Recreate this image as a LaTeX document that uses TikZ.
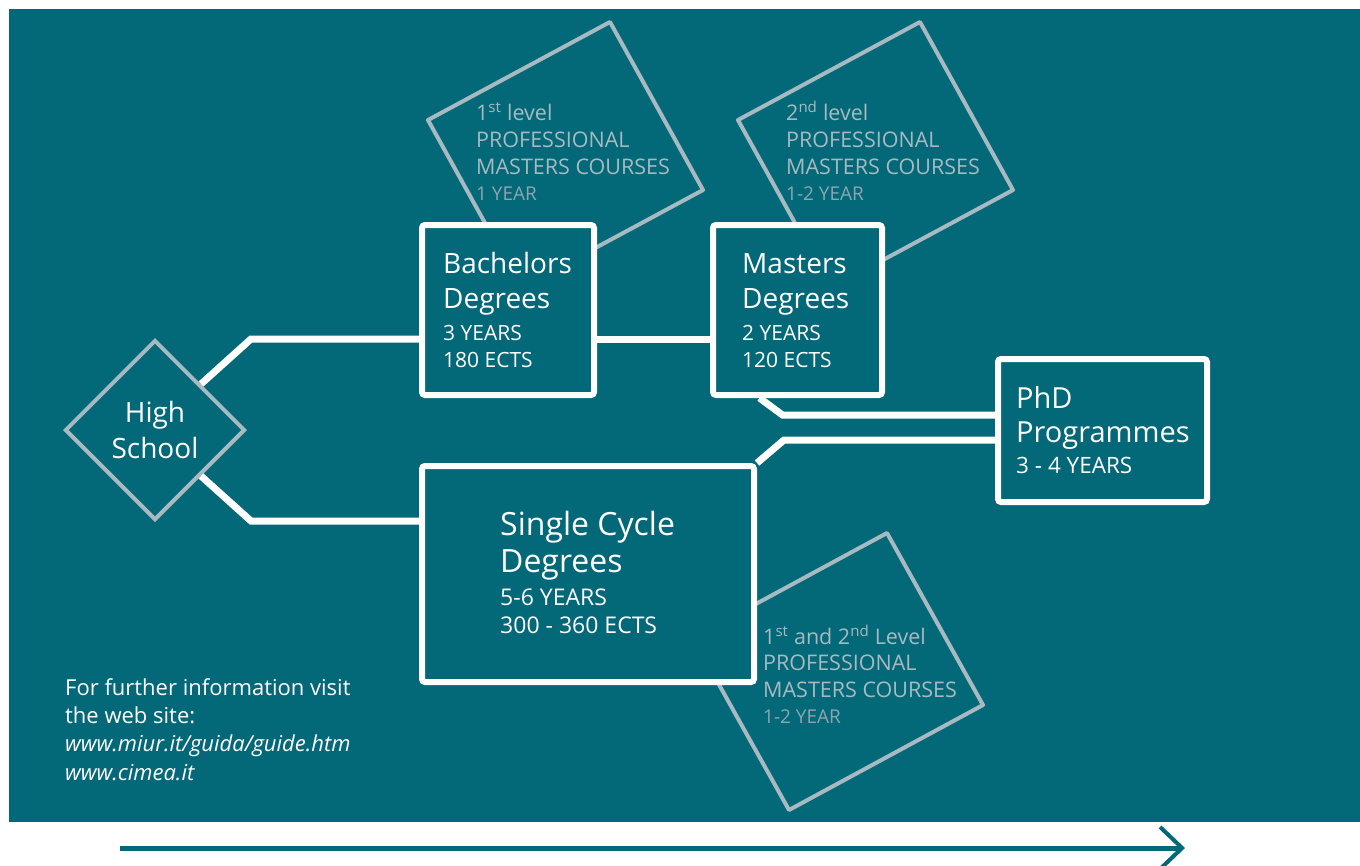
\documentclass[tikz,border=0pt]{standalone}
\usepackage{fontspec}
\setmainfont{Open Sans}
\usetikzlibrary{shapes.geometric}
\usetikzlibrary{arrows.meta}
\definecolor{petrol}{RGB}{3,104,119}
\definecolor{ash}{RGB}{168,186,193}
\definecolor{dimash}{RGB}{140,166,176}
\newcommand{\headfont}{\fontsize{28}{28}\selectfont}
\newcommand{\bigheadfont}{\fontsize{32}{32}\selectfont}
\newcommand{\yearfont}{\fontsize{19}{19}\selectfont}
\setlength{\lineskiplimit}{-50pt}

\begin{document}
\begin{tikzpicture}[x=1pt,y=-1pt,
  degbox/.style={draw=white,line width=6pt,fill=petrol,rounded corners=3pt,inner sep=0pt},
  link/.style={draw=white,line width=7pt},
  pmline/.style={draw=ash,line width=4pt,line join=round},
  wtxt/.style={text=white,align=left,inner sep=0pt,anchor=base west,
    font=\fontsize{21}{27}\selectfont},
  gtxt/.style={text=ash,align=left,inner sep=0pt,anchor=base west,
    font=\fontsize{21.5}{27}\selectfont}]
\useasboundingbox (0,0) rectangle (1360,865);
\fill[petrol] (9,9) rectangle (1360,822);

% professional masters courses
\draw[pmline] (610,22) -- (703,190) -- (521,288) -- (428,120) -- cycle;
\draw[pmline] (920,22) -- (1013,190) -- (831,288) -- (738,120) -- cycle;
\draw[pmline] (887,533) -- (983,705) -- (789,810) -- (693,638) -- cycle;
\node[gtxt] (pm1) at (476,200) {1\textsuperscript{st} level\\PROFESSIONAL\\MASTERS COURSES\\[-1pt]{\yearfont\color{dimash}1 YEAR}};
\node[gtxt] (pm2) at (786,200) {2\textsuperscript{nd} level\\PROFESSIONAL\\MASTERS COURSES\\[-1pt]{\yearfont\color{dimash}1-2 YEAR}};
\node[gtxt] (pm3) at (763,723) {1\textsuperscript{st} and 2\textsuperscript{nd} Level\\[-1pt]PROFESSIONAL\\MASTERS COURSES\\[-1pt]{\yearfont\color{dimash}1-2 YEAR}};

% degrees
\node[degbox,minimum width=172pt,minimum height=170pt] (bach) at (508,310) {};
\node[degbox,minimum width=169pt,minimum height=170pt] (mast) at (797.5,310) {};
\node[degbox,minimum width=209pt,minimum height=143pt] (phd) at (1102.5,430.5) {};
\node[degbox,minimum width=332pt,minimum height=216pt] (sing) at (588,574) {};
\node[diamond,draw=ash,line width=4pt,fill=petrol,minimum width=180pt,minimum height=180pt,
  inner sep=0pt,text=white,align=center,font=\fontsize{28}{36}\selectfont] (hs) at (155,430) {High\\School};

\draw[link] (hs.north east) -- ++(50,-45) coordinate (h1) -- (h1 -| bach.west);
\draw[link] (hs.south east) -- ++(50,45) coordinate (h2) -- (h2 -| sing.west);
\draw[link] (bach.east |- h1) -- (mast.west |- h1);
\draw[link] ([xshift=-38pt]mast.south) -- ++(23,17) coordinate (m1) -- (m1 -| phd.west);
\draw[link] (sing.north east) -- ++(27,-23) coordinate (s1) -- (s1 -| phd.west);

\node[wtxt] (bacht) at (443,367) {{\headfont Bachelors}\\[8pt]{\headfont Degrees}\\[5pt]3 YEARS\\180 ECTS};
\node[wtxt] (mastt) at (742,367) {{\headfont Masters}\\[8pt]{\headfont Degrees}\\[5pt]2 YEARS\\120 ECTS};
\node[wtxt,font=\fontsize{22.5}{27}\selectfont] (phdt) at (1016,473) {{\fontsize{29}{29}\selectfont PhD}\\[7pt]{\fontsize{29}{29}\selectfont Programmes}\\[4pt]3 - 4 YEARS};
\node[wtxt,font=\fontsize{23}{27}\selectfont] (singt) at (500,633) {{\bigheadfont Single Cycle}\\[10pt]{\bigheadfont Degrees}\\[6pt]5-6 YEARS\\[1pt]300 - 360 ECTS};

% footer
\node[wtxt,font=\fontsize{22}{28.3}\selectfont] (info) at (65,780) {For further information visit\\the web site:\\\textit{www.miur.it/guida/guide.htm}\\\textit{www.cimea.it}};
\coordinate (tl0) at (120,848);
\coordinate (tl1) at (1185,848);
\draw[petrol,line width=5pt,-{Straight Barb[length=22pt,width=42pt,line width=4pt]}] (tl0) -- (tl1);
\end{tikzpicture}
\end{document}
